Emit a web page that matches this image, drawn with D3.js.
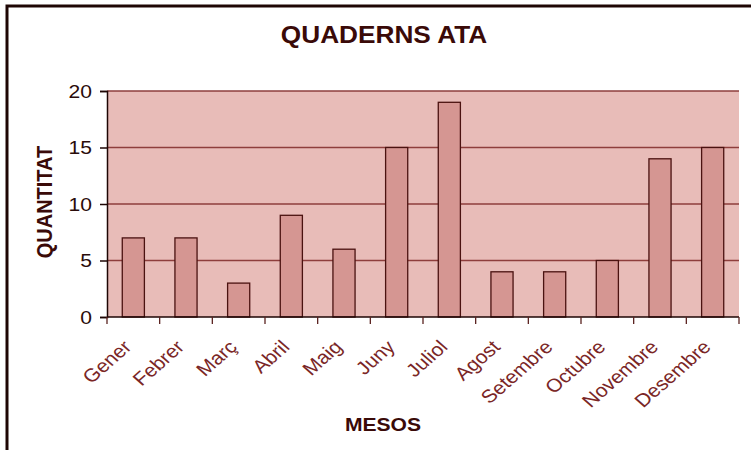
<!DOCTYPE html>
<html>
<head>
<meta charset="utf-8">
<script src="https://cdn.jsdelivr.net/npm/d3@7"></script>
<style>
  html, body { margin: 0; padding: 0; background: #fff; }
  svg { display: block; }
  text { font-family: "Liberation Sans", Arial, sans-serif; }
</style>
</head>
<body>
<svg id="chart" width="751" height="450"></svg>
<script>
// Monthly counts of "Quaderns ATA"
const months = ["Gener", "Febrer", "Març", "Abril", "Maig", "Juny", "Juliol",
                "Agost", "Setembre", "Octubre", "Novembre", "Desembre"];
const quantities = [7, 7, 3, 9, 6, 15, 19, 4, 4, 5, 14, 15];
const yTicks = [0, 5, 10, 15, 20];

const svg = d3.select("#chart");
const W = 751, H = 450;
const plot = { left: 107, right: 739, top: 91, bottom: 317 };
const SX = 1.14; // horizontal widening of the lettering

// Outer frame (top and left edges visible)
svg.append("path")
  .attr("d", `M7,${H} L7,6 L${W},6`)
  .attr("fill", "none")
  .attr("stroke", "#1e0604")
  .attr("stroke-width", 3);

const x = d3.scaleBand()
  .domain(months)
  .range([plot.left, plot.right])
  .paddingInner(0.58)
  .paddingOuter(0.29);

const xEdges = d3.scaleLinear()
  .domain([0, months.length])
  .range([plot.left, plot.right]);

const y = d3.scaleLinear()
  .domain([0, 20])
  .range([plot.bottom, plot.top]);

// Plot background
svg.append("rect")
  .attr("x", plot.left).attr("y", plot.top)
  .attr("width", plot.right - plot.left)
  .attr("height", plot.bottom - plot.top)
  .attr("fill", "#e8bcb8");

// Horizontal gridlines
svg.append("g")
  .selectAll("line")
  .data(yTicks.filter(d => d > 0))
  .join("line")
  .attr("x1", plot.left).attr("x2", plot.right)
  .attr("y1", d => y(d)).attr("y2", d => y(d))
  .attr("stroke", "#8e3e3c")
  .attr("stroke-width", 1.5);

// Bars
svg.append("g")
  .selectAll("rect")
  .data(months.map((m, i) => ({ m, v: quantities[i] })))
  .join("rect")
  .attr("x", d => x(d.m))
  .attr("y", d => y(d.v))
  .attr("width", x.bandwidth())
  .attr("height", d => y(0) - y(d.v))
  .attr("fill", "#d59692")
  .attr("stroke", "#4a1210")
  .attr("stroke-width", 1.3);

// Y axis
const yAxis = svg.append("g")
  .attr("transform", `translate(${plot.left},0)`)
  .call(d3.axisLeft(y).tickValues(yTicks).tickSize(7).tickFormat(() => ""));
yAxis.select(".domain").attr("stroke", "#1e0604").attr("stroke-width", 1.5);
yAxis.selectAll(".tick line").attr("stroke", "#1e0604").attr("stroke-width", 1.5);
yAxis.selectAll(".tick text").remove();

// Y tick labels (right-aligned, widened)
svg.append("g")
  .selectAll("text")
  .data(yTicks)
  .join("text")
  .attr("transform", d => `translate(92,${y(d)}) scale(${SX},1)`)
  .attr("text-anchor", "end")
  .attr("dy", "0.36em")
  .attr("fill", "#2a0c0a")
  .style("font-size", "18.5px")
  .text(d => d);

// X axis: ticks at category boundaries
const xAxis = svg.append("g")
  .attr("transform", `translate(0,${plot.bottom})`);
xAxis.append("line")
  .attr("x1", plot.left).attr("x2", plot.right)
  .attr("stroke", "#1e0604").attr("stroke-width", 1.5);
xAxis.selectAll("line.tick")
  .data(d3.range(months.length + 1))
  .join("line")
  .attr("class", "tick")
  .attr("x1", d => xEdges(d)).attr("x2", d => xEdges(d))
  .attr("y1", 0).attr("y2", 7)
  .attr("stroke", "#5a2220").attr("stroke-width", 1.3);

// Rotated month labels
svg.append("g")
  .selectAll("text")
  .data(months)
  .join("text")
  .attr("transform", d => `translate(${x(d) + x.bandwidth() / 2 - 11},${plot.bottom + 22}) scale(${SX},1) rotate(-45)`)
  .attr("text-anchor", "end")
  .attr("dy", "0.7em")
  .attr("fill", "#7a2626")
  .style("font-size", "18.5px")
  .text(d => d);

// Title
svg.append("text")
  .attr("transform", `translate(384,43) scale(${SX},1)`)
  .attr("text-anchor", "middle")
  .attr("fill", "#3a0a08")
  .style("font-size", "23px")
  .style("font-weight", "bold")
  .text("QUADERNS ATA");

// Y axis title
svg.append("text")
  .attr("transform", `translate(52,${(plot.top + plot.bottom) / 2 - 2}) scale(${SX},1) rotate(-90)`)
  .attr("text-anchor", "middle")
  .attr("fill", "#3a0a08")
  .style("font-size", "20px")
  .style("font-weight", "bold")
  .text("QUANTITAT");

// X axis title
svg.append("text")
  .attr("transform", `translate(383,431) scale(${SX},1)`)
  .attr("text-anchor", "middle")
  .attr("fill", "#3a0a08")
  .style("font-size", "18.5px")
  .style("font-weight", "bold")
  .text("MESOS");
</script>
</body>
</html>
